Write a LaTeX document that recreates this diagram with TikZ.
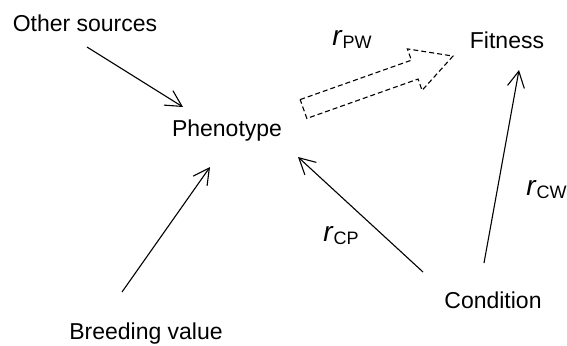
\documentclass[tikz,border=0pt]{standalone}
\usepackage{fontspec}
\setmainfont{Liberation Sans}
\usetikzlibrary{arrows.meta, positioning}
\newcommand*{\rlab}[1]{{\fontsize{14}{16}\selectfont\textit{r}\raisebox{-1.5pt}{\fontsize{9}{11}\selectfont #1}}}

\begin{document}
\begin{tikzpicture}[x=0.5pt, y=-0.5pt, >={Straight Barb[length=8pt,width=8.5pt]},
      every node/.style={font=\fontsize{11.5}{13}\selectfont, inner sep=0pt, anchor=base},
      link/.style={->, line width=0.55pt},
      fatarrow/.style={draw, dash pattern=on 2.5pt off 1.5pt, line width=0.55pt, line join=miter}]
      \useasboundingbox (0,0) rectangle (567,345);
      \node (other) at (85,31.5) {Other sources};
      \node (pheno) at (227,136) {Phenotype};
      \node (fit)   at (507,48.5) {Fitness};
      \node (breed) at (146,339) {Breeding value};
      \node (cond)  at (493,308.5) {Condition};
      \node[anchor=base west] (rpw) at (332,45) {\rlab{PW}};
      \node[anchor=base west] (rcp) at (323,241) {\rlab{CP}};
      \node[anchor=base west] (rcw) at (526,195) {\rlab{CW}};
      \draw[link] ([shift={(2,15.5)}]other.base) -- ([shift={(-44,-29)}]pheno.base);
      \draw[link] ([shift={(-24,-47)}]breed.base) -- ([shift={(-17,31)}]pheno.base);
      \draw[link] ([shift={(-70,-36.5)}]cond.base) -- ([shift={(71,21)}]pheno.base);
      \draw[link] ([shift={(-9,-45.5)}]cond.base) -- ([shift={(12,21.5)}]fit.base);
      % dashed block arrow from phenotype towards fitness
      \begin{scope}[shift={([shift={(76.5,-27)}]pheno.base)}, rotate=19.5]
        \path[fatarrow] (0,-10) -- (118,-10) -- (118,-22) -- (158.6,0)
          -- (118,22) -- (118,10) -- (0,10) -- cycle;
      \end{scope}
    \end{tikzpicture}
\end{document}
